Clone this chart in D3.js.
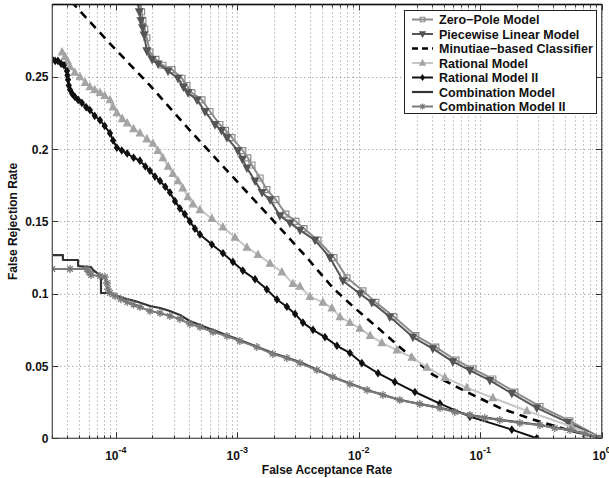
<!DOCTYPE html>
<html><head><meta charset="utf-8">
<script src="https://cdn.jsdelivr.net/npm/d3@7"></script>
<style>
body{margin:0;background:#fff}
svg{display:block;font-family:"Liberation Sans",Arial,Helvetica,sans-serif;font-weight:bold}
</style>
</head><body>
<svg id="chart" width="609" height="478"></svg>
<script>
// ---------------- DATA ----------------
const seriesNames = ["Zero\u2212Pole Model","Piecewise Linear Model","Minutiae\u2212based Classifier","Rational Model","Rational Model II","Combination Model","Combination Model II"];
const xTickValues = [1e-4,1e-3,1e-2,1e-1,1];
const xTickExponents = ["-4","-3","-2","-1","0"];
const yTickValues = [0,0.05,0.1,0.15,0.2,0.25];
const yTickLabels = ["0","0.05","0.1","0.15","0.2","0.25"];
const xLabel = "False Acceptance Rate";
const yLabel = "False Rejection Rate";

const zeroPole = [[1.58e-4,0.302],[1.63e-4,0.295],[1.67e-4,0.289],[1.73e-4,0.283],[1.80e-4,0.277],[1.91e-4,0.267],[2.14e-4,0.262],[2.44e-4,0.258],[2.90e-4,0.255],[3.50e-4,0.249],[3.85e-4,0.244],[4.23e-4,0.239],[5.12e-4,0.234],[5.96e-4,0.226],[7.19e-4,0.217],[8.00e-4,0.213],[9.04e-4,0.208],[1.11e-3,0.199],[1.22e-3,0.194],[1.32e-3,0.189],[1.54e-3,0.180],[1.75e-3,0.172],[2.08e-3,0.165],[2.51e-3,0.155],[3.04e-3,0.150],[3.54e-3,0.145],[4.61e-3,0.137],[6.25e-3,0.125],[8.00e-3,0.111],[1.08e-2,0.102],[1.38e-2,0.094],[1.95e-2,0.084],[2.95e-2,0.071],[4.31e-2,0.063],[6.31e-2,0.054],[8.71e-2,0.048],[0.127,0.041],[0.193,0.032],[0.310,0.022],[0.547,0.012],[1,0]];
const piecewiseLinear = [[1.52e-4,0.302],[1.56e-4,0.295],[1.61e-4,0.289],[1.66e-4,0.284],[1.71e-4,0.279],[1.80e-4,0.268],[1.99e-4,0.262],[2.23e-4,0.259],[2.69e-4,0.254],[3.25e-4,0.249],[3.60e-4,0.243],[3.93e-4,0.239],[4.66e-4,0.234],[5.42e-4,0.226],[6.55e-4,0.217],[7.40e-4,0.213],[8.22e-4,0.208],[1.01e-3,0.199],[1.10e-3,0.193],[1.20e-3,0.187],[1.40e-3,0.178],[1.60e-3,0.170],[1.86e-3,0.165],[2.24e-3,0.154],[2.71e-3,0.149],[3.28e-3,0.144],[4.36e-3,0.137],[5.79e-3,0.125],[7.41e-3,0.109],[1.02e-2,0.100],[1.28e-2,0.094],[1.80e-2,0.084],[2.79e-2,0.070],[4.07e-2,0.062],[5.95e-2,0.053],[8.22e-2,0.047],[0.120,0.040],[0.182,0.031],[0.292,0.021],[0.526,0.011],[1,0]];
const minutiae = [[4.30e-5,0.302],[8.95e-5,0.273],[1.91e-4,0.244],[4.07e-4,0.213],[8.69e-4,0.183],[1.86e-3,0.153],[3.74e-3,0.125],[6.12e-3,0.104],[9.29e-3,0.090],[1.41e-2,0.077],[2.18e-2,0.063],[4.07e-2,0.044],[7.76e-2,0.032],[0.145,0.021],[0.271,0.013],[0.516,0.006],[1,0]];
const rational = [[3.61e-5,0.267],[3.82e-5,0.264],[4.00e-5,0.261],[4.20e-5,0.257],[4.60e-5,0.253],[5.07e-5,0.250],[5.60e-5,0.246],[6.12e-5,0.243],[6.70e-5,0.241],[7.41e-5,0.239],[8.10e-5,0.237],[8.95e-5,0.234],[9.50e-5,0.229],[1.02e-4,0.225],[1.13e-4,0.221],[1.24e-4,0.218],[1.40e-4,0.214],[1.58e-4,0.211],[1.80e-4,0.207],[2.02e-4,0.204],[2.22e-4,0.199],[2.44e-4,0.194],[2.70e-4,0.188],[2.95e-4,0.183],[3.25e-4,0.178],[3.56e-4,0.173],[3.92e-4,0.167],[4.31e-4,0.162],[4.93e-4,0.158],[6.18e-4,0.152],[7.62e-4,0.146],[9.57e-4,0.139],[1.20e-3,0.132],[1.48e-3,0.127],[1.86e-3,0.121],[2.33e-3,0.115],[2.87e-3,0.107],[3.28e-3,0.105],[3.96e-3,0.098],[5.07e-3,0.094],[6.01e-3,0.090],[7.00e-3,0.084],[8.45e-3,0.080],[1.02e-2,0.076],[1.24e-2,0.071],[1.55e-2,0.066],[2.06e-2,0.061],[2.74e-2,0.056],[3.64e-2,0.049],[5.12e-2,0.042],[7.76e-2,0.035],[0.127,0.028],[0.242,0.019],[0.568,0.008],[1,0]];
const rationalII = [[3.0e-5,0.262],[3.17e-5,0.261],[3.34e-5,0.261],[3.55e-5,0.259],[3.74e-5,0.258],[3.96e-5,0.254],[4.00e-5,0.251],[4.04e-5,0.248],[4.10e-5,0.244],[4.20e-5,0.241],[4.40e-5,0.238],[4.61e-5,0.236],[4.90e-5,0.234],[5.26e-5,0.232],[5.70e-5,0.229],[6.12e-5,0.227],[6.70e-5,0.223],[7.41e-5,0.220],[8.10e-5,0.216],[8.95e-5,0.211],[9.50e-5,0.206],[1.02e-4,0.201],[1.12e-4,0.199],[1.24e-4,0.197],[1.40e-4,0.194],[1.58e-4,0.192],[1.75e-4,0.188],[1.91e-4,0.185],[2.10e-4,0.181],[2.31e-4,0.178],[2.55e-4,0.174],[2.79e-4,0.170],[3.07e-4,0.164],[3.37e-4,0.159],[3.70e-4,0.155],[4.07e-4,0.150],[4.48e-4,0.145],[4.93e-4,0.141],[6.18e-4,0.134],[7.62e-4,0.128],[9.21e-4,0.122],[1.11e-3,0.116],[1.40e-3,0.110],[1.75e-3,0.103],[2.12e-3,0.096],[2.56e-3,0.091],[2.99e-3,0.086],[3.47e-3,0.080],[4.20e-3,0.075],[5.27e-3,0.070],[6.61e-3,0.064],[8.45e-3,0.059],[1.06e-2,0.052],[1.44e-2,0.045],[1.98e-2,0.039],[2.90e-2,0.032],[4.66e-2,0.024],[8.22e-2,0.015],[0.182,0.006],[0.292,0]];
const combination = [[3.0e-5,0.1267],[3.67e-5,0.1267],[3.67e-5,0.1233],[4.89e-5,0.1233],[4.89e-5,0.1191],[6.25e-5,0.1184],[6.49e-5,0.1164],[7.41e-5,0.1129],[7.55e-5,0.1129],[7.55e-5,0.1005],[8.61e-5,0.1005],[9.84e-5,0.0991],[1.15e-4,0.0970],[1.44e-4,0.0949],[1.91e-4,0.0915],[2.31e-4,0.0901],[2.79e-4,0.0880],[3.37e-4,0.0853],[4.07e-4,0.0811],[4.93e-4,0.0784],[6.31e-4,0.0749],[1.05e-3,0.0680],[1.96e-3,0.0590],[3.28e-3,0.0528],[6.12e-3,0.0424],[1.17e-2,0.0334],[2.18e-2,0.0265],[4.66e-2,0.0210],[8.22e-2,0.0161],[0.145,0.0127],[0.310,0.0092],[0.547,0.0057],[1,0]];
const combinationII = [[3.0e-5,0.1171],[4.20e-5,0.1171],[5.79e-5,0.1171],[6.01e-5,0.1150],[6.25e-5,0.1129],[7.41e-5,0.1122],[8.15e-5,0.1115],[8.45e-5,0.1074],[8.61e-5,0.1032],[8.95e-5,0.1005],[9.84e-5,0.0984],[1.10e-4,0.0962],[1.24e-4,0.0942],[1.40e-4,0.0925],[1.58e-4,0.0908],[1.91e-4,0.0880],[2.31e-4,0.0866],[2.79e-4,0.0846],[3.37e-4,0.0825],[4.07e-4,0.0790],[4.93e-4,0.0770],[6.31e-4,0.0735],[8.22e-4,0.0707],[1.05e-3,0.0673],[1.45e-3,0.0631],[1.96e-3,0.0583],[2.56e-3,0.0555],[3.28e-3,0.0521],[4.52e-3,0.0472],[6.12e-3,0.0424],[8.45e-3,0.0376],[1.17e-2,0.0334],[1.58e-2,0.0300],[2.18e-2,0.0265],[3.18e-2,0.0237],[4.66e-2,0.0210],[6.18e-2,0.0182],[8.22e-2,0.0161],[0.109,0.0140],[0.145,0.0127],[0.212,0.0106],[0.310,0.0092],[0.411,0.0071],[0.547,0.0057],[0.726,0.0030],[1,0]];

// ---------------- STYLES ----------------
const styles = [
  {data: zeroPole,        stroke:"#8c8c8c", width:2,   dash:null,  marker:"square",   mfill:"none",    mstroke:"#8c8c8c", msize:6},
  {data: piecewiseLinear, stroke:"#555555", width:2,   dash:null,  marker:"tridown",  mfill:"#555555", mstroke:"#555555", msize:7},
  {data: minutiae,        stroke:"#000000", width:2.6, dash:"8,6", marker:null},
  {data: rational,        stroke:"#c6c6c6", width:2,   dash:null,  marker:"triup",    mfill:"#a4a4a4", mstroke:"#a4a4a4", msize:7},
  {data: rationalII,      stroke:"#111111", width:2,   dash:null,  marker:"diamond",  mfill:"#111111", mstroke:"#111111", msize:6},
  {data: combination,     stroke:"#333333", width:2.2, dash:null,  marker:null},
  {data: combinationII,   stroke:"#7a7a7a", width:2,   dash:null,  marker:"asterisk", mfill:"none",    mstroke:"#7a7a7a", msize:4}
];

// ---------------- CHART ----------------
const svg = d3.select("#chart");
const L = 52.3, R = 601.7, T = 4.5, B = 438.3;
const x = d3.scaleLog().domain([3e-5, 1]).range([L, R]);
const y = d3.scaleLinear().domain([0, 0.3]).range([B, T]);

svg.append("defs").append("clipPath").attr("id","clip")
  .append("rect").attr("x",L).attr("y",T).attr("width",R-L).attr("height",B-T);

// grid
const minorX = [];
for (let d = -5; d <= 0; d++) for (let k = 1; k <= 9; k++) {
  const v = k * Math.pow(10, d);
  if (v >= 3e-5 * 0.999 && v <= 1.0001) minorX.push(v);
}
const grid = svg.append("g").attr("stroke","#8a8a8a").attr("stroke-width",1).attr("stroke-dasharray","1,3");
grid.selectAll("line.gx").data(minorX).join("line")
  .attr("x1",d=>Math.round(x(d))+0.5).attr("x2",d=>Math.round(x(d))+0.5).attr("y1",T).attr("y2",B);
grid.selectAll("line.gy").data(yTickValues.filter(v=>v>0)).join("line")
  .attr("y1",d=>Math.round(y(d))+0.5).attr("y2",d=>Math.round(y(d))+0.5).attr("x1",L).attr("x2",R);

// series
const line = d3.line().x(d=>x(d[0])).y(d=>y(d[1]));
const plot = svg.append("g").attr("clip-path","url(#clip)");

function markerPath(type, s) {
  const h = s/2;
  switch (type) {
    case "square": return `M${-h},${-h}H${h}V${h}H${-h}Z`;
    case "triup": return `M0,${-h*1.1}L${h},${h*0.8}L${-h},${h*0.8}Z`;
    case "tridown": return `M0,${h*1.1}L${h},${-h*0.8}L${-h},${-h*0.8}Z`;
    case "diamond": return `M0,${-h*1.1}L${h*0.8},0L0,${h*1.1}L${-h*0.8},0Z`;
    case "asterisk": {
      const a = s, b = s*0.7;
      return `M${-a},0H${a}M0,${-a}V${a}M${-b},${-b}L${b},${b}M${-b},${b}L${b},${-b}`;
    }
  }
  return "";
}

styles.forEach(st => {
  plot.append("path").datum(st.data)
    .attr("fill","none").attr("stroke",st.stroke).attr("stroke-width",st.width)
    .attr("stroke-dasharray",st.dash).attr("stroke-linejoin","round")
    .attr("d",line);
  if (st.marker) {
    plot.append("g").selectAll("path").data(st.data).join("path")
      .attr("transform",d=>`translate(${x(d[0])},${y(d[1])})`)
      .attr("d",markerPath(st.marker, st.msize))
      .attr("fill",st.mfill).attr("stroke",st.mstroke).attr("stroke-width",st.marker==="asterisk"?1.3:1.2);
  }
});

// axes box
svg.append("rect").attr("x",L).attr("y",T).attr("width",R-L).attr("height",B-T)
  .attr("fill","none").attr("stroke","#555").attr("stroke-width",1.3);
svg.append("line").attr("x1",L).attr("x2",R).attr("y1",T).attr("y2",T)
  .attr("stroke","#111").attr("stroke-width",1.3);

// ticks (inward, top & bottom / left & right)
const ticks = svg.append("g").attr("stroke","#333").attr("stroke-width",1);
minorX.forEach(v => {
  const major = xTickValues.some(t=>Math.abs(Math.log10(t)-Math.log10(v))<1e-6);
  const len = major ? 6 : 3;
  const px = Math.round(x(v))+0.5;
  ticks.append("line").attr("x1",px).attr("x2",px).attr("y1",B).attr("y2",B-len);
  ticks.append("line").attr("x1",px).attr("x2",px).attr("y1",T).attr("y2",T+len);
});
yTickValues.forEach(v => {
  const py = Math.round(y(v))+0.5;
  ticks.append("line").attr("x1",L).attr("x2",L+6).attr("y1",py).attr("y2",py);
  ticks.append("line").attr("x1",R).attr("x2",R-6).attr("y1",py).attr("y2",py);
});

// tick labels
const xl = svg.append("g").attr("fill","#111").attr("font-size",12);
xTickValues.forEach((v,i) => {
  const t = xl.append("text").attr("x",x(v)).attr("y",459.5).attr("text-anchor","middle");
  t.append("tspan").text("10");
  t.append("tspan").attr("dy",-7).attr("font-size",9).text(xTickExponents[i]);
});
const yl = svg.append("g").attr("fill","#111").attr("font-size",12).attr("text-anchor","end");
yTickValues.forEach((v,i) => {
  yl.append("text").attr("x",48.5).attr("y",y(v)+4.5).text(yTickLabels[i]);
});

// axis labels
svg.append("text").attr("x",(L+R)/2).attr("y",473.5).attr("text-anchor","middle")
  .attr("font-size",12).attr("fill","#111").text(xLabel);
svg.append("text").attr("transform",`translate(16.5,${(T+B)/2}) rotate(-90)`).attr("text-anchor","middle")
  .attr("font-size",12).attr("fill","#111").text(yLabel);

// legend
const lg = svg.append("g");
lg.append("rect").attr("x",404.5).attr("y",10.5).attr("width",192).attr("height",103)
  .attr("fill","#fff").attr("stroke","#222").attr("stroke-width",1);
styles.forEach((st,i) => {
  const cy = 19.5 + i*14.5;
  lg.append("line").attr("x1",412).attr("x2",433).attr("y1",cy).attr("y2",cy)
    .attr("stroke",st.stroke).attr("stroke-width",st.width).attr("stroke-dasharray",st.dash?"6,4":null);
  if (st.marker) {
    lg.append("path").attr("transform",`translate(422.5,${cy})`)
      .attr("d",markerPath(st.marker, st.marker==="asterisk"?3:st.msize*0.75))
      .attr("fill",st.mfill).attr("stroke",st.mstroke).attr("stroke-width",1.2);
  }
  lg.append("text").attr("x",439).attr("y",cy+4.5).attr("font-size",12.5).attr("fill","#111").text(seriesNames[i]);
});
</script>
</body></html>
